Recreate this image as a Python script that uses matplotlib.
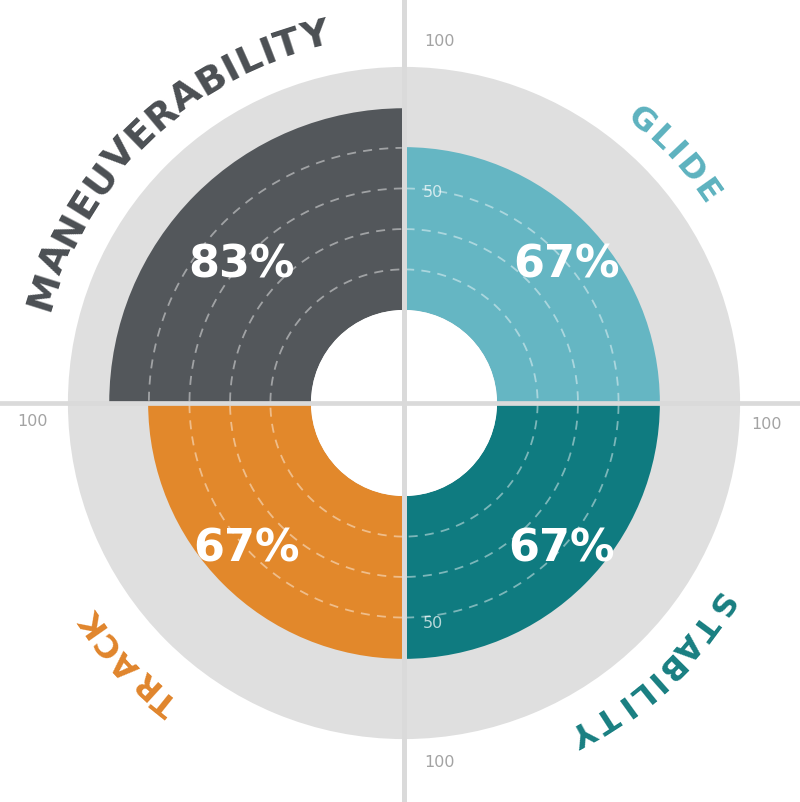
import numpy as np
import matplotlib
matplotlib.use('Agg')
import matplotlib.pyplot as plt
from matplotlib.lines import Line2D
from matplotlib.font_manager import FontProperties, findfont
from matplotlib.ft2font import FT2Font

# data
categories = ['GLIDE', 'STABILITY', 'TRACK', 'MANEUVERABILITY']
values = [67, 67, 67, 83]
pct_labels = ['67%', '67%', '67%', '83%']
start_deg = [0, 90, 180, 270]          # compass, clockwise from top
grid_levels = [16.7, 33.3, 50, 66.7]

colors = ['#65b6c3', '#0f7b80', '#e2882b', '#53575b']
label_colors = ['#5db2bf', '#187e81', '#e0852c', '#4b4f53']
ring_gray = '#dfdfdf'

# pixel geometry of the radial scale (r_px = R0 + K * value)
R0, K = 93.0, 2.43
DPI = 100


def v_of(px):
    return (px - R0) / K


fig = plt.figure(figsize=(8, 8.03), dpi=DPI)
fig.patch.set_facecolor('white')
ax = fig.add_axes([-0.00625, -0.01245, 1.0225, 1.01868], projection='polar')
ax.set_theta_zero_location('N')
ax.set_theta_direction(-1)
ax.set_rorigin(-R0 / K)
ax.set_ylim(0, 130)
ax.axis('off')

# grey background disc
ax.bar(0, 100, width=2 * np.pi, bottom=0, align='edge', color=ring_gray, linewidth=0, zorder=1)

# quadrant wedges
ax.bar(np.radians(start_deg), values, width=np.pi / 2, bottom=0, align='edge',
       color=colors, linewidth=0, zorder=2)

# dashed guide circles inside each wedge
for s, v in zip(start_deg, values):
    th = np.radians(np.linspace(s + 0.5, s + 89.5, 200))
    for g in grid_levels:
        if g < v - 1:
            ax.plot(th, np.full_like(th, g), color='white', alpha=0.45, lw=1.3,
                    ls=(0, (5, 4)), zorder=3)

# percentage labels
pct_angles = [49.5, 132.5, 227.5, 310.5]
for a, t in zip(pct_angles, pct_labels):
    ax.text(np.radians(a), v_of(214), t, color='white', fontsize=32, fontweight='bold',
            family='DejaVu Sans', ha='center', va='center', zorder=5)

# cross lines through the centre
cx, cy = 404 / 800, 1 - 404 / 803
fig.add_artist(Line2D([cx, cx], [0, 1], transform=fig.transFigure, color='#dadada', lw=3.6, zorder=3))
fig.add_artist(Line2D([0, 1], [cy, cy], transform=fig.transFigure, color='#dadada', lw=3.4, zorder=3))

# scale labels
ticks_100 = [(0, 36, 26), (90, 26, -21), (180, 36, -22), (270, -35, -18)]
for a, dx, dy in ticks_100:
    ax.annotate('100', (np.radians(a), 100), xytext=(dx, dy), textcoords='offset pixels',
                ha='center', va='center', fontsize=11.5, color='#a3a3a3', zorder=6,
                annotation_clip=False)
ticks_50 = [(0, 29, -3), (90, -3, -24), (180, 29, -5), (270, -5, -26)]
for a, dx, dy in ticks_50:
    ax.annotate('50', (np.radians(a), 50), xytext=(dx, dy), textcoords='offset pixels',
                ha='center', va='center', fontsize=11.5, color='white', alpha=0.7, zorder=6)


def arc_text(text, center_deg, r_px, size, color, tracking=0.0):
    prop = FontProperties(family='DejaVu Sans', weight='bold', size=size)
    font = FT2Font(findfont(prop))
    font.set_size(size, 72)
    widths = []
    for c in text:
        g = font.load_char(ord(c))
        widths.append(g.linearHoriAdvance / 65536 * DPI / 72 + tracking)
    total = sum(widths) - tracking
    theta = np.radians(center_deg) - total / (2 * r_px)
    pos = 0.0
    for c, w in zip(text, widths):
        t = theta + (pos + (w - tracking) / 2) / r_px
        ax.text(t, v_of(r_px), c, rotation=-np.degrees(t), rotation_mode='anchor',
                ha='center', va='center', fontproperties=prop, color=color, zorder=6)
        pos += w


arc_specs = [(47.2, 369, 23, 3.4), (136.9, 372, 23, 3.3), (227.0, 380, 23, 3.0),
             (316.5, 377, 27.5, 1.0)]
for name, col, (cd, rp, fs, tr) in zip(categories, label_colors, arc_specs):
    arc_text(name, cd, rp, fs, col, tr)

fig.savefig('out.png', dpi=DPI, facecolor='white')
